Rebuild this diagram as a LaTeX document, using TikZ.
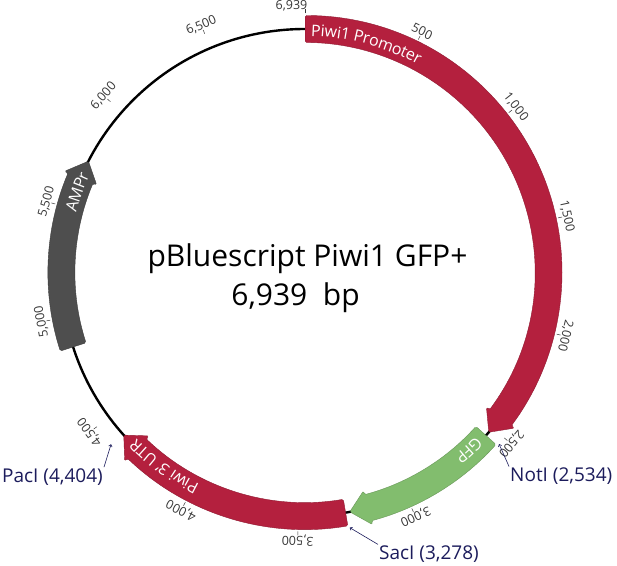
\documentclass[tikz,border=0pt]{standalone}
\usepackage{fontspec}
\setmainfont{Open Sans}
\usetikzlibrary{decorations.text,arrows.meta}

\definecolor{promred}{RGB}{180,32,62}
\definecolor{gfpgreen}{RGB}{130,189,110}
\definecolor{ampgray}{RGB}{78,78,78}
\definecolor{sitenavy}{RGB}{28,28,92}
\definecolor{tickgray}{RGB}{55,55,55}

\def\Rm{243.5pt}
\def\Ri{230pt}
\def\Ro{257pt}
\def\Rfi{226pt}
\def\Rfo{261pt}
\def\hd{4.4}
\def\featfont{\fontsize{16}{16}\selectfont\color{white}}

\def\feature#1#2#3{%
  \filldraw[#3] (90-#1:\Ro) arc[start angle=90-#1, end angle=90-#2+\hd, radius=\Ro]
    -- (90-#2+\hd:\Rfo) -- (90-#2:\Rm) -- (90-#2+\hd:\Rfi)
    -- (90-#2+\hd:\Ri) arc[start angle=90-#2+\hd, end angle=90-#1, radius=\Ri] -- cycle;}
\def\flabel#1#2#3{%
  \path[decorate, decoration={text along path, text align=center, raise=-7pt,
      text={|\featfont|#3}}]
    (90-#1:\Rm) arc[start angle=90-#1, end angle=90-#2, radius=\Rm];}

\begin{document}
\begin{tikzpicture}[x=1pt, y=1pt,
    backbone/.style = {draw=black, line width=2.4pt},
    featbox/.style = {rounded corners=1.5pt, line width=0.4pt},
    ticklabel/.style = {text=tickgray, inner sep=0pt,
      font=\fontsize{12.5}{12.5}\selectfont},
    tickline/.style = {draw=tickgray, line width=0.5pt},
    sitelabel/.style = {text=sitenavy, inner sep=1pt,
      font=\fontsize{19}{19}\selectfont},
    siteline/.style = {draw=sitenavy, line width=0.6pt,
      {Straight Barb[length=2pt,width=3.5pt]}-},
    titletext/.style = {inner sep=0pt, font=\fontsize{30}{30}\selectfont}]
  \fill[white] (-305,-292.5) rectangle (312,272.5);
  \useasboundingbox (-305,-292.5) rectangle (312,272.5);

  \draw[backbone] (0,0) circle[radius=\Rm];

  \feature{0.05}{131.0}{featbox, fill=promred, draw=promred!80!black}
  \feature{132.0}{169.4}{featbox, fill=gfpgreen, draw=gfpgreen!80!black}
  \feature{170.4}{228.1}{featbox, fill=promred, draw=promred!80!black}
  \feature{252.2}{297.2}{featbox, fill=ampgray, draw=ampgray!80!black}

  \flabel{0}{30}{Piwi1 Promoter}
  \flabel{132.4}{142.4}{GFP}
  \flabel{204}{228}{Piwi 3' UTR}
  \flabel{283}{296}{AMPr}

  \foreach \p/\txt in {500/500, 1000/{1,000}, 1500/{1,500}, 2000/{2,000},
      2500/{2,500}, 3000/{3,000}, 3500/{3,500}, 4000/{4,000}, 4500/{4,500},
      5000/{5,000}, 5500/{5,500}, 6000/{6,000}, 6500/{6,500}} {
    \pgfmathsetmacro\t{\p*0.0518807}
    \draw[tickline] (90-\t:259pt) -- (90-\t:263pt);
    \node[ticklabel, rotate=-\t] (t\p) at (90-\t:268pt) {\txt};
  }
  \draw[tickline] (90:259pt) -- (90:263pt);
  \node[ticklabel] (t0) at (-13.5,266.5) {6,939};

  \node[titletext, anchor=base] (title) at (2.5,5.8) {pBluescript Piwi1 GFP+};
  \node[titletext, anchor=base] (size) at (-9.5,-32.5) {6,939\ \ bp};

  \coordinate (notsite) at (90-131.47:259pt);
  \coordinate (sacsite) at (90-170.06:259pt);
  \coordinate (pacsite) at (90-228.48:259pt);
  \node[sitelabel, anchor=west] (noti) at (204,-203.5) {NotI (2,534)};
  \node[sitelabel, anchor=west] (saci) at (73,-281.5) {SacI (3,278)};
  \node[sitelabel, anchor=east] (paci) at (-201,-204.2) {PacI (4,404)};
  \draw[siteline] (notsite) -- (noti.north west);
  \draw[siteline] (sacsite) -- (saci.north west);
  \draw[siteline] (pacsite) -- (paci.north east);
\end{tikzpicture}
\end{document}
